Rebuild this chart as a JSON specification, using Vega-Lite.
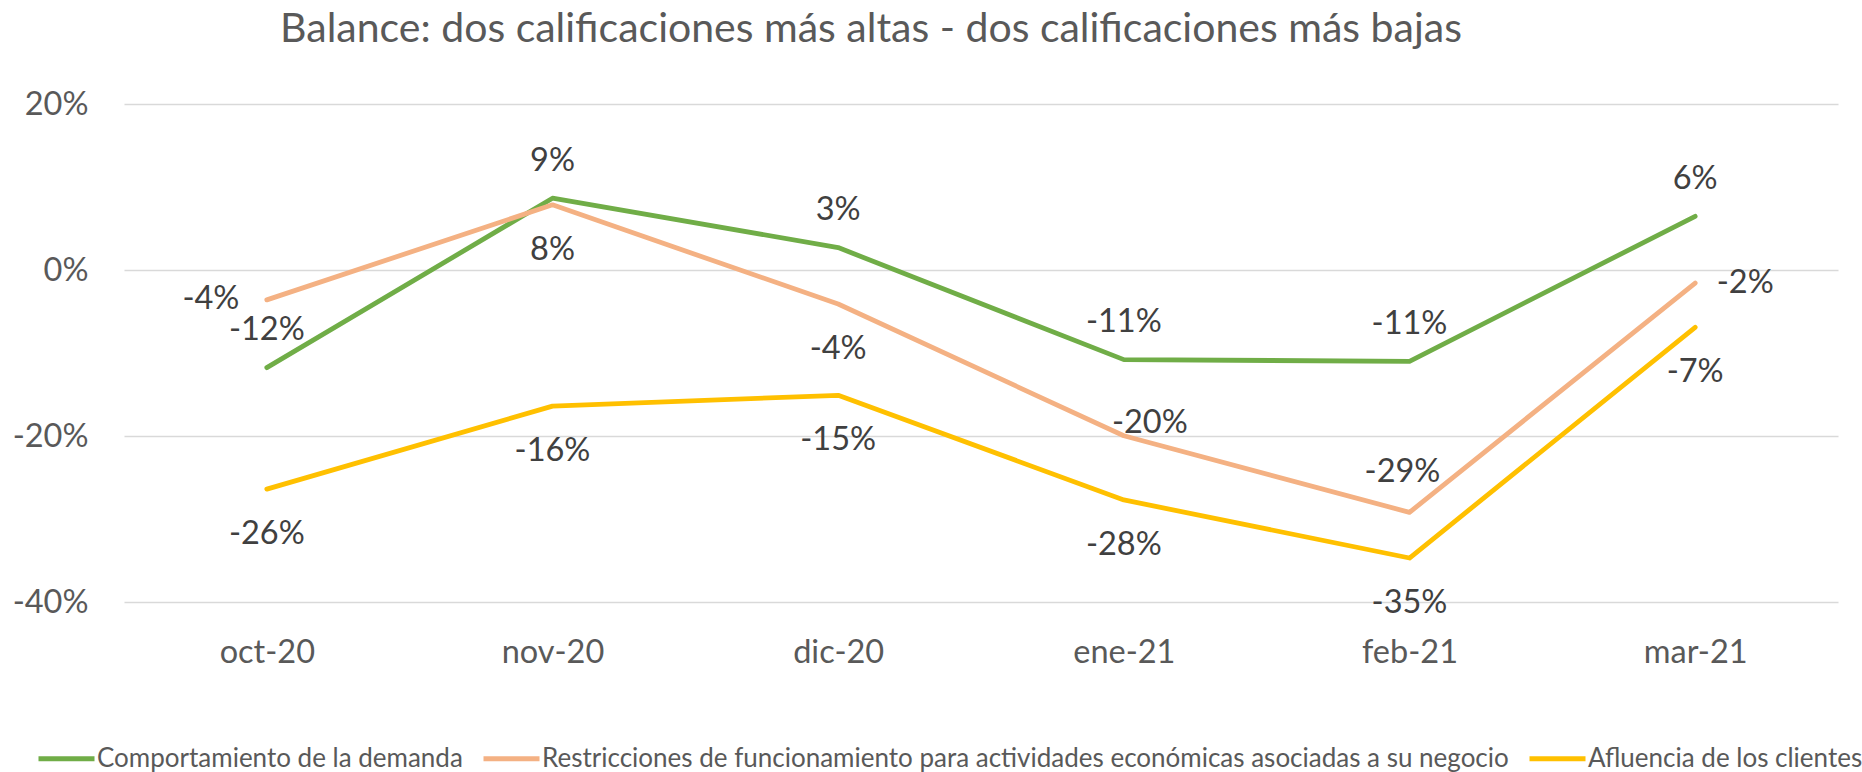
{
  "$schema": "https://vega.github.io/schema/vega-lite/v6.json",
  "width": 1714,
  "height": 498,
  "autosize": {"type": "none"},
  "padding": {"left": 124, "top": 104, "right": 24, "bottom": 170},
  "title": {
    "text": "Balance: dos calificaciones más altas - dos calificaciones más bajas",
    "font": "Lato",
    "fontSize": 41,
    "fontWeight": "normal",
    "color": "#595959",
    "anchor": "middle",
    "dx": -110,
    "offset": 37
  },
  "config": {
    "locale": {"number": {"decimal": ".", "thousands": ",", "grouping": [3], "currency": ["$", ""], "minus": "-"}},
    "view": {"stroke": null},
    "font": "Lato"
  },
  "data": {
    "values": [
      {"mes": "oct-20", "serie": "Comportamiento de la demanda", "valor": -0.1176},
      {"mes": "nov-20", "serie": "Comportamiento de la demanda", "valor": 0.0865},
      {"mes": "dic-20", "serie": "Comportamiento de la demanda", "valor": 0.027},
      {"mes": "ene-21", "serie": "Comportamiento de la demanda", "valor": -0.108},
      {"mes": "feb-21", "serie": "Comportamiento de la demanda", "valor": -0.110},
      {"mes": "mar-21", "serie": "Comportamiento de la demanda", "valor": 0.0647},
      {"mes": "oct-20", "serie": "Restricciones de funcionamiento para actividades económicas asociadas a su negocio", "valor": -0.036},
      {"mes": "nov-20", "serie": "Restricciones de funcionamiento para actividades económicas asociadas a su negocio", "valor": 0.0785},
      {"mes": "dic-20", "serie": "Restricciones de funcionamiento para actividades económicas asociadas a su negocio", "valor": -0.041},
      {"mes": "ene-21", "serie": "Restricciones de funcionamiento para actividades económicas asociadas a su negocio", "valor": -0.1997},
      {"mes": "feb-21", "serie": "Restricciones de funcionamiento para actividades económicas asociadas a su negocio", "valor": -0.292},
      {"mes": "mar-21", "serie": "Restricciones de funcionamiento para actividades económicas asociadas a su negocio", "valor": -0.0157},
      {"mes": "oct-20", "serie": "Afluencia de los clientes", "valor": -0.264},
      {"mes": "nov-20", "serie": "Afluencia de los clientes", "valor": -0.164},
      {"mes": "dic-20", "serie": "Afluencia de los clientes", "valor": -0.151},
      {"mes": "ene-21", "serie": "Afluencia de los clientes", "valor": -0.277},
      {"mes": "feb-21", "serie": "Afluencia de los clientes", "valor": -0.347},
      {"mes": "mar-21", "serie": "Afluencia de los clientes", "valor": -0.069}
    ]
  },
  "encoding": {
    "x": {
      "field": "mes",
      "type": "ordinal",
      "sort": ["oct-20", "nov-20", "dic-20", "ene-21", "feb-21", "mar-21"],
      "scale": {"type": "point", "padding": 0.5},
      "axis": {
        "title": null,
        "labelAngle": 0,
        "domain": false,
        "ticks": false,
        "tickSize": 0,
        "grid": false,
        "labelPadding": 60,
        "labelBaseline": "alphabetic",
        "labelFont": "Lato",
        "labelFontSize": 32.5,
        "labelColor": "#595959"
      }
    },
    "y": {
      "field": "valor",
      "type": "quantitative",
      "scale": {"domain": [-0.4, 0.2], "nice": false, "zero": false},
      "axis": {
        "title": null,
        "values": [-0.4, -0.2, 0, 0.2],
        "format": ".0%",
        "domain": false,
        "ticks": false,
        "tickSize": 0,
        "grid": true,
        "gridColor": "#d9d9d9",
        "gridWidth": 1.5,
        "labelPadding": 36,
        "labelFont": "Lato",
        "labelFontSize": 32.5,
        "labelColor": "#595959"
      }
    }
  },
  "layer": [
    {
      "mark": {"type": "line", "strokeWidth": 4.8, "strokeCap": "round", "strokeJoin": "round"},
      "encoding": {
        "color": {
          "field": "serie",
          "type": "nominal",
          "scale": {
            "domain": ["Comportamiento de la demanda", "Restricciones de funcionamiento para actividades económicas asociadas a su negocio", "Afluencia de los clientes"],
            "range": ["#70AD47", "#F4B183", "#FFC000"]
          },
          "legend": {
            "title": null,
            "orient": "none",
            "legendX": -88,
            "legendY": 624,
            "direction": "horizontal",
            "columns": 3,
            "symbolType": "stroke",
            "symbolSize": 3136,
            "symbolStrokeWidth": 5,
            "labelFont": "Lato",
            "labelFontSize": 26,
            "labelColor": "#595959",
            "labelLimit": 0,
            "labelOffset": 0,
            "columnPadding": 10
          }
        }
      }
    },
    {
      "transform": [{"filter": "datum.serie === 'Comportamiento de la demanda'"}],
      "mark": {"type": "text", "font": "Lato", "fontSize": 32.5, "color": "#404040", "baseline": "alphabetic", "align": "center", "dy": -27.4},
      "encoding": {"text": {"field": "valor", "type": "quantitative", "format": ".0%"}}
    },
    {
      "transform": [{"filter": "datum.serie === 'Afluencia de los clientes'"}],
      "mark": {"type": "text", "font": "Lato", "fontSize": 32.5, "color": "#404040", "baseline": "alphabetic", "align": "center", "dy": 55.1},
      "encoding": {"text": {"field": "valor", "type": "quantitative", "format": ".0%"}}
    },
    {
      "transform": [{"filter": "datum.serie === 'Restricciones de funcionamiento para actividades económicas asociadas a su negocio' && (datum.mes === 'nov-20' || datum.mes === 'dic-20')"}],
      "mark": {"type": "text", "font": "Lato", "fontSize": 32.5, "color": "#404040", "baseline": "alphabetic", "align": "center", "dy": 55.1},
      "encoding": {"text": {"field": "valor", "type": "quantitative", "format": ".0%"}}
    },
    {
      "transform": [{"filter": "datum.serie === 'Restricciones de funcionamiento para actividades económicas asociadas a su negocio' && datum.mes === 'oct-20'"}],
      "mark": {"type": "text", "font": "Lato", "fontSize": 32.5, "color": "#404040", "baseline": "alphabetic", "align": "right", "dx": -27.4, "dy": 9.6},
      "encoding": {"text": {"field": "valor", "type": "quantitative", "format": ".0%"}}
    },
    {
      "transform": [{"filter": "datum.serie === 'Restricciones de funcionamiento para actividades económicas asociadas a su negocio' && datum.mes === 'ene-21'"}],
      "mark": {"type": "text", "font": "Lato", "fontSize": 32.5, "color": "#404040", "baseline": "alphabetic", "align": "center", "dx": 26, "dy": -2.4},
      "encoding": {"text": {"field": "valor", "type": "quantitative", "format": ".0%"}}
    },
    {
      "transform": [{"filter": "datum.serie === 'Restricciones de funcionamiento para actividades económicas asociadas a su negocio' && datum.mes === 'feb-21'"}],
      "mark": {"type": "text", "font": "Lato", "fontSize": 32.5, "color": "#404040", "baseline": "alphabetic", "align": "center", "dx": -7, "dy": -30.4},
      "encoding": {"text": {"field": "valor", "type": "quantitative", "format": ".0%"}}
    },
    {
      "transform": [{"filter": "datum.serie === 'Restricciones de funcionamiento para actividades económicas asociadas a su negocio' && datum.mes === 'mar-21'"}],
      "mark": {"type": "text", "font": "Lato", "fontSize": 32.5, "color": "#404040", "baseline": "alphabetic", "align": "left", "dx": 21.6, "dy": 9.6},
      "encoding": {"text": {"field": "valor", "type": "quantitative", "format": ".0%"}}
    }
  ]
}
